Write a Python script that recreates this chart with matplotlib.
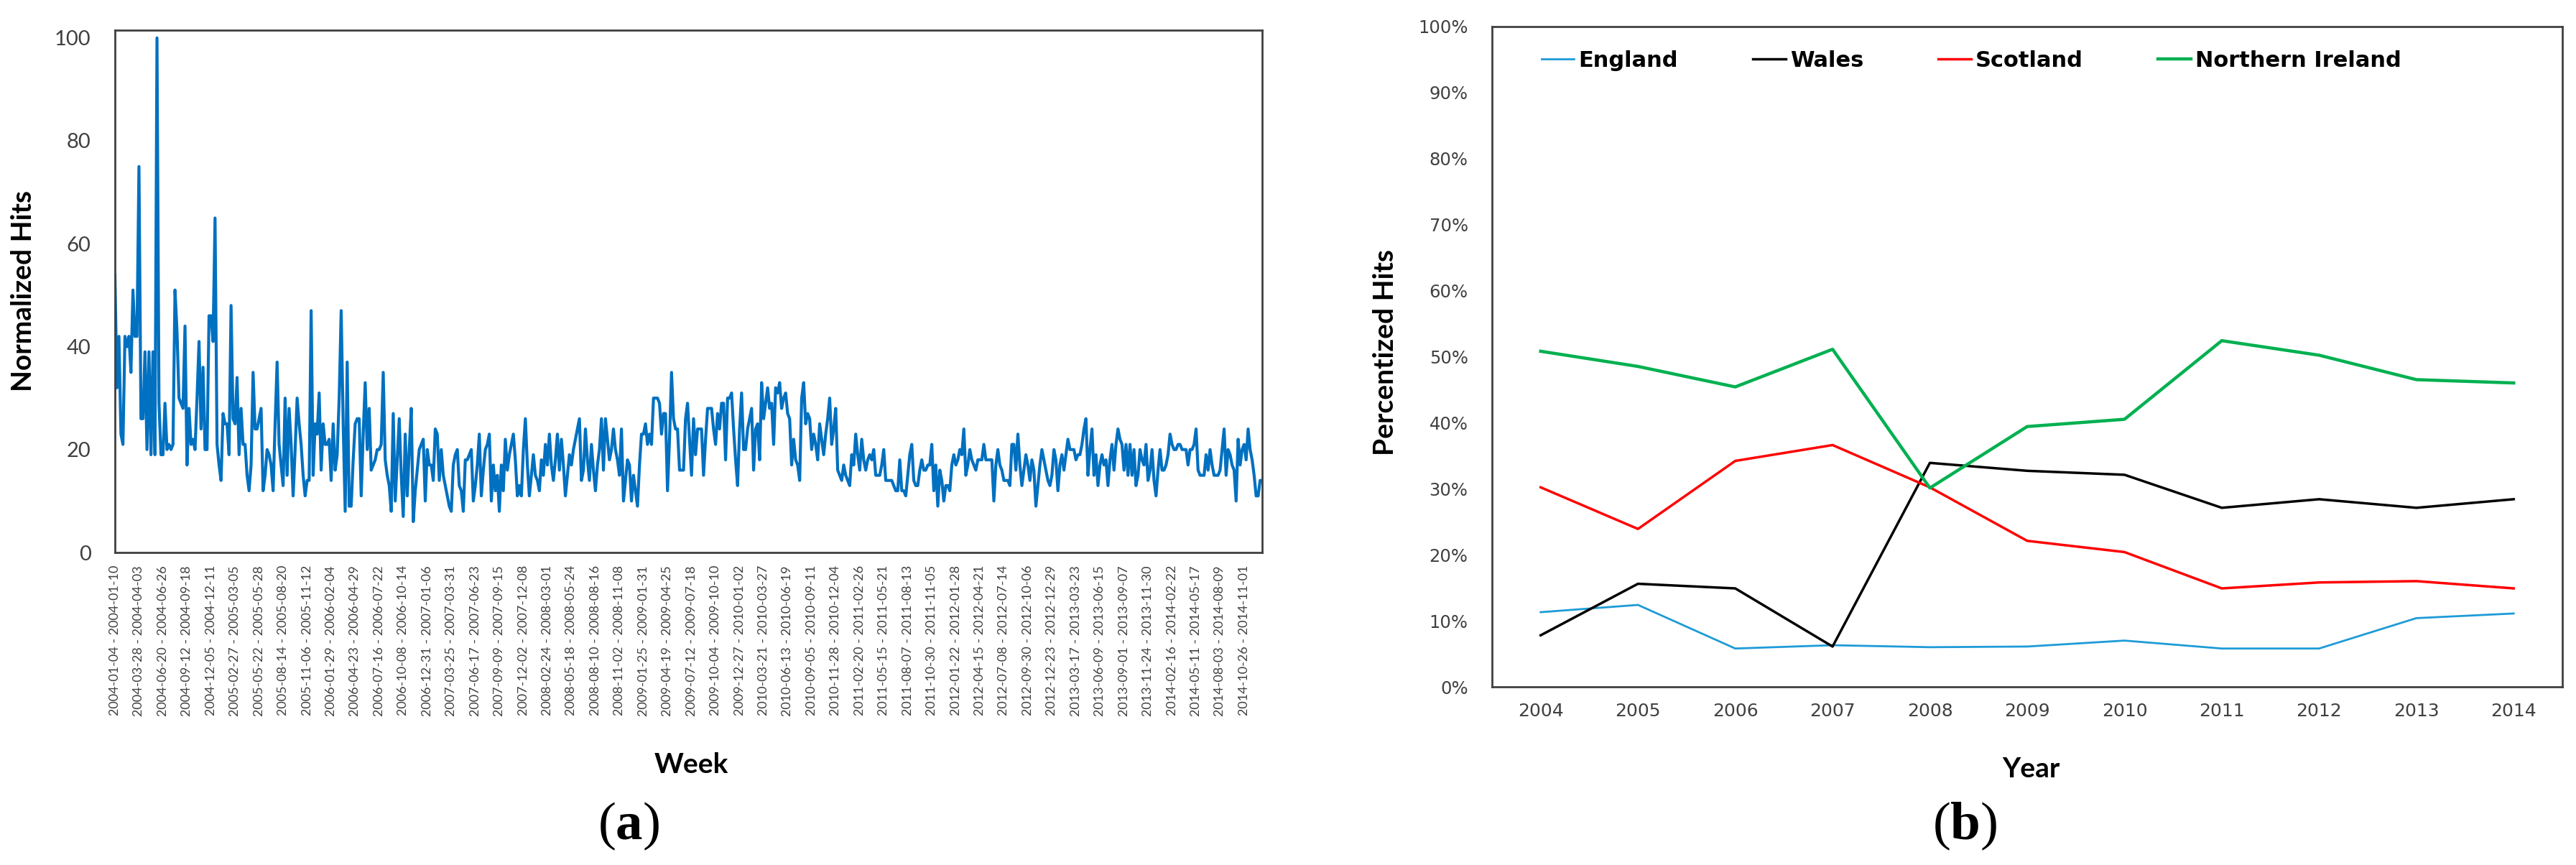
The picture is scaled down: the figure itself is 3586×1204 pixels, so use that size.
import matplotlib
matplotlib.use("Agg")
import matplotlib.pyplot as plt
import numpy as np
import pandas as pd
from matplotlib.ticker import PercentFormatter

# ---------------- data: panel (a) ----------------
first_week = "2004-01-04"
label_every = 12
weekly_hits = [
    54, 32, 42, 23, 21, 42, 40, 42, 35, 51,
    42, 42, 75, 26, 26, 39, 20, 39, 19, 39,
    19, 100, 29, 19, 19, 29, 20, 21, 20, 21,
    51, 43, 30, 29, 28, 44, 17, 28, 21, 22,
    20, 30, 41, 24, 36, 20, 20, 46, 46, 41,
    65, 21, 17, 14, 27, 25, 25, 19, 48, 26,
    25, 34, 19, 28, 21, 21, 15, 12, 17, 35,
    24, 24, 26, 28, 12, 15, 20, 19, 17, 12,
    25, 37, 21, 17, 13, 30, 15, 28, 21, 11,
    20, 30, 25, 21, 15, 11, 14, 14, 47, 15,
    25, 23, 31, 16, 25, 21, 21, 22, 14, 25,
    16, 19, 30, 47, 25, 8, 37, 9, 9, 18,
    25, 26, 26, 11, 23, 33, 20, 28, 16, 17,
    18, 20, 20, 21, 35, 18, 15, 13, 8, 27,
    10, 18, 26, 15, 7, 23, 11, 20, 28, 6,
    12, 16, 20, 21, 22, 10, 20, 17, 17, 14,
    24, 23, 14, 20, 15,
    13, 11, 9, 8, 17, 19, 20, 13, 12, 8,
    18, 18, 19, 20, 10, 13, 17, 23, 11, 16,
    20, 21, 23, 10, 17, 12, 15, 8, 17, 12,
    22, 16, 19, 21, 23, 18, 11, 13, 11, 20,
    26, 17, 11, 15, 19, 15, 14, 12, 18, 15,
    21, 17, 23, 17, 14, 18, 23, 16, 22, 17,
    11, 15, 19, 17, 20, 22, 24, 26, 14, 16,
    24, 18, 14, 21, 16, 12, 17, 20, 26, 16,
    26, 22, 18, 20, 24, 20, 18, 15, 24, 10,
    14, 18, 17, 10, 15, 12, 9, 17, 23, 23,
    25, 21, 23, 21, 30, 30, 30, 29, 23, 27,
    27, 12, 22, 35, 26, 24, 24, 16, 16, 16,
    26, 29, 22, 15, 26, 19, 24, 24, 24, 15,
    22, 28, 28, 28, 24, 21, 27, 24, 29, 29,
    18, 30, 30, 31, 24, 18, 13, 24, 31, 20,
    20, 24, 26, 28, 16, 24, 25, 18, 33, 26,
    29, 32, 28, 29, 21, 32, 31, 33, 28, 30,
    31, 27, 26, 17, 22, 18, 17, 14, 30, 33,
    25, 27, 26, 20, 23, 21, 18, 25, 22, 19,
    23, 26, 30, 21, 24, 28, 16, 15, 14, 17,
    15, 14, 13, 19, 17, 23, 19, 16, 22, 18,
    16, 18, 19, 18, 20, 15, 15, 15, 17, 20,
    14, 14, 14, 14, 13, 12, 12, 18, 12, 12,
    11, 15, 19, 21, 14, 13, 13, 16, 18, 16,
    16, 17, 17, 21, 12, 17, 9, 16, 14, 10,
    13, 13, 12, 17, 19, 17, 18, 20, 19, 24,
    15, 17, 20, 18, 17, 16, 18, 18, 18, 21,
    18, 18, 18, 18, 10, 17, 20, 17, 16, 14,
    14, 14, 13, 21, 21, 16, 23, 17, 13, 16,
    19, 17, 14, 18, 16, 9, 13, 17, 20, 18,
    16, 14, 13, 15, 20, 18, 12, 17, 19, 16,
    19, 22, 20, 20, 20, 18, 19, 19, 21, 24,
    26, 15, 20, 24,
    15, 19, 13, 17, 19, 17, 18, 13, 18, 21,
    16, 21, 24, 22, 21, 16, 21, 15, 21, 15,
    20, 13, 15, 20, 18, 17, 21, 14, 16, 20,
    14, 11, 16, 20, 16, 16, 17, 19, 23, 21,
    20, 20, 21, 21, 20, 20, 20, 17, 20, 20,
    21, 24, 16, 15, 15, 15, 19, 16, 20, 17,
    15, 15, 15, 16, 20, 24, 15, 20, 19, 17,
    16, 10, 22, 17, 20, 21, 18, 24, 20, 18,
    15, 11, 11, 14, 14,
]
left_yticks = [0, 20, 40, 60, 80, 100]

# ---------------- data: panel (b) ----------------
years = [2004, 2005, 2006, 2007, 2008, 2009, 2010, 2011, 2012, 2013, 2014]
england = [11.3, 12.4, 5.8, 6.3, 6.0, 6.1, 7.0, 5.8, 5.8, 10.4, 11.1]
wales = [7.8, 15.6, 14.9, 6.1, 33.9, 32.7, 32.1, 27.1, 28.4, 27.1, 28.4]
scotland = [30.2, 23.9, 34.2, 36.6, 30.2, 22.1, 20.4, 14.9, 15.8, 16.0, 14.9]
n_ireland = [50.8, 48.5, 45.4, 51.1, 30.1, 39.4, 40.5, 52.4, 50.2, 46.5, 46.0]
series_names = ["England", "Wales", "Scotland", "Northern Ireland"]

# ---------------- style ----------------
plt.rcParams["mathtext.fontset"] = "custom"
plt.rcParams["mathtext.rm"] = "Liberation Serif"
plt.rcParams["mathtext.bf"] = "Liberation Serif:bold"

W, H = 3586, 1204
fig = plt.figure(figsize=(W / 100, H / 100), dpi=100)
spine_col = "#404040"
tick_col = "#404040"

# ---------------- panel (a) ----------------
ax1 = fig.add_axes([160 / W, 1 - 769 / H, 1597 / W, 727 / H])
n = len(weekly_hits)
x = np.arange(n)
ax1.plot(x, weekly_hits, color="#0070C0", lw=3.0, solid_joinstyle="round")
ax1.set_xlim(0, n - 1)
ax1.set_ylim(0, 101.5)
ax1.set_yticks(left_yticks)
starts = pd.date_range(first_week, periods=n, freq="7D")
tick_pos = list(range(0, n, label_every))
tick_lab = [f"{starts[i]:%Y-%m-%d} - {(starts[i] + pd.Timedelta(days=6)):%Y-%m-%d}" for i in tick_pos]
ax1.set_xticks(tick_pos)
ax1.set_xticklabels(tick_lab, rotation=90, fontfamily="Lato", fontsize=13, color=tick_col)
for lab in ax1.get_yticklabels():
    lab.set_fontfamily("Lato")
    lab.set_fontsize(21)
    lab.set_color(tick_col)
ax1.tick_params(axis="x", length=0, pad=13)
ax1.tick_params(axis="y", length=0, pad=24)
for sp in ax1.spines.values():
    sp.set_color(spine_col)
    sp.set_linewidth(2)

# ---------------- panel (b) ----------------
ax2 = fig.add_axes([2077 / W, 1 - 956 / H, 1490 / W, 919.5 / H])
xi = np.arange(len(years))
ax2.plot(xi, england, color="#1E9BD7", lw=2.0, label=series_names[0])
ax2.plot(xi, wales, color="#000000", lw=2.5, label=series_names[1])
ax2.plot(xi, scotland, color="#FF0000", lw=2.5, label=series_names[2])
ax2.plot(xi, n_ireland, color="#00B050", lw=3.2, label=series_names[3])
ax2.set_xlim(-0.5, len(years) - 0.5)
ax2.set_ylim(0, 100)
ax2.set_xticks(xi)
ax2.set_xticklabels([str(y) for y in years], fontfamily="DejaVu Sans", fontsize=18, color=tick_col)
ax2.set_yticks(np.arange(0, 101, 10))
ax2.yaxis.set_major_formatter(PercentFormatter(100, decimals=0))
for lab in ax2.get_yticklabels():
    lab.set_fontfamily("DejaVu Sans")
    lab.set_fontsize(17.5)
    lab.set_color(tick_col)
ax2.tick_params(axis="x", length=0, pad=16)
ax2.tick_params(axis="y", length=0, pad=24)
for sp in ax2.spines.values():
    sp.set_color(spine_col)
    sp.set_linewidth(2)
ax2.legend(loc="upper left", bbox_to_anchor=(0.046, 0.964), ncol=4, frameon=False,
           borderpad=0, borderaxespad=0, handlelength=1.5, handletextpad=0.2,
           columnspacing=3.4, prop={"family": "DejaVu Sans", "weight": "bold", "size": 22})

# ---------------- labels ----------------
lab_kw = dict(fontfamily="Lato", fontweight="bold", fontsize=28, color="#000000", ha="center", va="center")
fig.text(33 / W, 1 - 405 / H, "Normalized Hits", rotation=90, **lab_kw)
fig.text(962 / W, 1 - 1064 / H, "Week", **lab_kw)
fig.text(1928 / W, 1 - 490 / H, "Percentized Hits", rotation=90, **lab_kw)
fig.text(2827 / W, 1 - 1070 / H, "Year", **lab_kw)
fig.text(875 / W, 1 - 1150 / H, r"($\mathbf{a}$)", fontfamily="Liberation Serif", fontsize=54,
         ha="center", va="center")
fig.text(2735 / W, 1 - 1150 / H, r"($\mathbf{b}$)", fontfamily="Liberation Serif", fontsize=54,
         ha="center", va="center")

fig.savefig("out.png", dpi=100)
